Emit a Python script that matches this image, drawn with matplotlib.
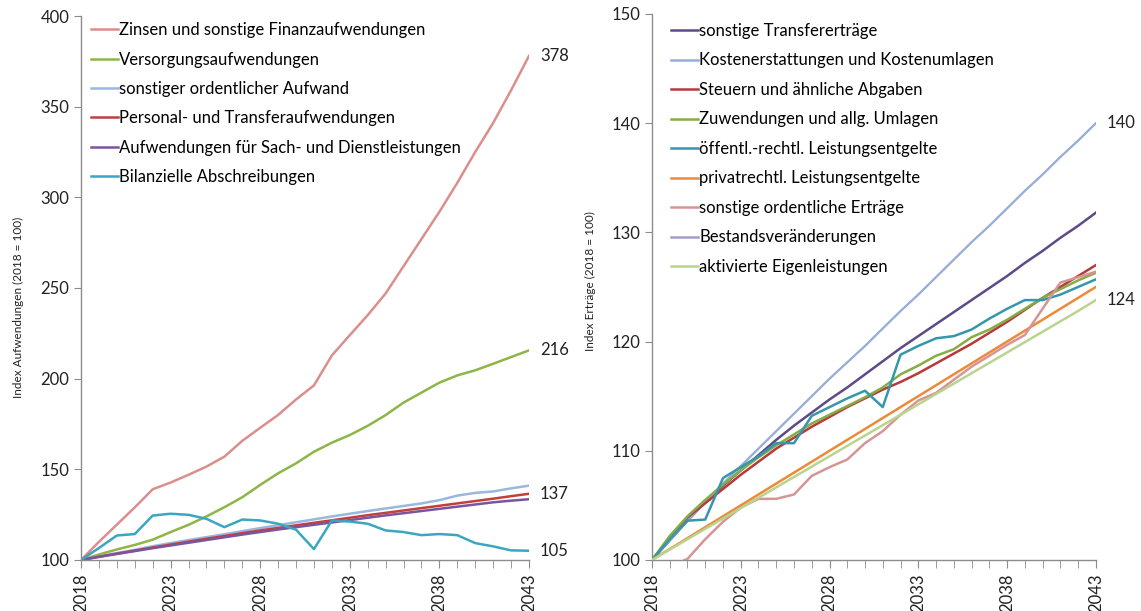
import numpy as np
import matplotlib
matplotlib.use("Agg")
import matplotlib.pyplot as plt

plt.rcParams['font.family'] = ['Lato', 'DejaVu Sans']

years = list(range(2018, 2044))

# Aufwendungen (2018 = 100)
aufw_names = ["Zinsen und sonstige Finanzaufwendungen",
              "Versorgungsaufwendungen",
              "sonstiger ordentlicher Aufwand",
              "Personal- und Transferaufwendungen",
              "Aufwendungen für Sach- und Dienstleistungen",
              "Bilanzielle Abschreibungen"]
zinsen = [100, 110, 119.5, 129, 139, 142.7, 147, 151.5, 157, 165.7, 172.9, 180, 188.5,
          196.3, 212.8, 224, 235, 247, 262, 277, 292, 308, 325, 341, 359, 378]
versorgung = [100, 103, 105.8, 108.3, 111.2, 115.4, 119.4, 124, 129.1, 134.6, 141.4, 147.8,
              153.3, 159.7, 164.7, 168.9, 174, 179.9, 186.8, 192.3, 197.8, 201.8, 204.6,
              208.2, 211.9, 215.6]
sonst_aufwand = [100, 102, 103.8, 105.6, 107.6, 109.3, 111, 112.6, 114.2, 115.9, 117.6, 119.2,
                 120.8, 122.4, 124, 125.5, 127, 128.4, 129.8, 131.2, 133, 135.5, 137,
                 137.8, 139.5, 141]
personal = [100, 101.8, 103.5, 105.2, 106.9, 108.5, 110.1, 111.7, 113.2, 114.8, 116.3, 117.7,
            119.1, 120.5, 121.9, 123.3, 124.7, 126, 127.3, 128.6, 129.9, 131.2, 132.5,
            133.8, 135.2, 136.5]
sach = [100, 101.7, 103.3, 104.9, 106.5, 108, 109.5, 111, 112.5, 114, 115.4, 116.8, 118.1,
        119.4, 120.7, 122, 123.3, 124.6, 125.8, 127, 128.2, 129.4, 130.6, 131.8, 132.7, 133.5]
abschreib = [100, 106.6, 113.5, 114.3, 124.5, 125.5, 124.9, 122.7, 118.1, 122.3, 121.8, 120,
             116.7, 106, 121.8, 121.2, 120, 116.3, 115.4, 113.7, 114.3, 113.7, 109.3, 107.5,
             105.3, 105.1]
aufw_series = [zinsen, versorgung, sonst_aufwand, personal, sach, abschreib]
aufw_colors = ["#DA8F8D", "#8DB547", "#9BB7DF", "#C0403D", "#7A559E", "#3AA6C0"]
aufw_end_labels = {"378": zinsen[-1], "216": versorgung[-1],
                   "137": personal[-1], "105": abschreib[-1]}

# Erträge (2018 = 100)
ertr_names = ["sonstige Transfererträge",
              "Kostenerstattungen und Kostenumlagen",
              "Steuern und ähnliche Abgaben",
              "Zuwendungen und allg. Umlagen",
              "öffentl.-rechtl. Leistungsentgelte",
              "privatrechtl. Leistungsentgelte",
              "sonstige ordentliche Erträge",
              "Bestandsveränderungen",
              "aktivierte Eigenleistungen"]
transfer = [100, 101.8, 103.6, 105.3, 106.8, 108.2, 109.6, 111, 112.3, 113.5, 114.7, 115.8,
            117, 118.2, 119.4, 120.5, 121.6, 122.7, 123.8, 124.9, 126, 127.2, 128.3,
            129.5, 130.6, 131.8]
kosten = [100, 101.8, 103.6, 105.3, 107, 108.6, 110.2, 111.8, 113.4, 115, 116.6, 118.1,
          119.6, 121.2, 122.8, 124.3, 125.9, 127.5, 129.1, 130.6, 132.2, 133.8, 135.3,
          136.9, 138.4, 140]
steuern = [100, 102, 103.9, 105.2, 106.5, 107.8, 109, 110.2, 111.2, 112.2, 113.1, 114,
           114.8, 115.6, 116.3, 117.1, 118, 118.9, 119.8, 120.8, 121.8, 122.9, 124,
           125, 126, 127]
zuwend = [100, 102.2, 104, 105.5, 106.9, 108.2, 109.4, 110.5, 111.5, 112.5, 113.3, 114.1,
          114.9, 115.8, 117, 117.8, 118.7, 119.3, 120.4, 121.1, 122, 123, 124, 124.8,
          125.6, 126.3]
oeff = [100, 101.9, 103.6, 103.7, 107.5, 108.5, 109.5, 110.7, 110.7, 113.2, 114, 114.8,
        115.5, 114, 118.8, 119.6, 120.3, 120.5, 121.1, 122.1, 123, 123.8, 123.8, 124.3,
        125, 125.7]
privat = [100, 101, 102, 103, 104, 105, 106, 107, 108, 109, 110, 111, 112, 113, 114, 115,
          116, 117, 118, 119, 120, 121, 122, 123, 124, 125]
sonst_ertr = [100, 99.4, 100.1, 101.9, 103.5, 104.8, 105.6, 105.6, 106, 107.7, 108.5, 109.2,
              110.7, 111.8, 113.3, 114.6, 115.3, 116.5, 117.7, 118.7, 119.7, 120.6, 123,
              125.4, 125.9, 126.4]
bestand = kosten
aktiv = [100, 100.95, 101.9, 102.85, 103.8, 104.75, 105.7, 106.65, 107.6, 108.55, 109.5,
         110.45, 111.4, 112.35, 113.3, 114.25, 115.2, 116.15, 117.1, 118.05, 119, 119.95,
         120.9, 121.85, 122.8, 123.8]
ertr_series = [transfer, kosten, steuern, zuwend, oeff, privat, sonst_ertr, bestand, aktiv]
ertr_colors = ["#5E4A86", "#97AFD6", "#B8393C", "#86AD45", "#3696AC", "#EC8A38",
               "#D69595", "#A899CC", "#B9D48E"]
ertr_widths = [1.8, 1.6, 1.8, 1.8, 1.8, 1.8, 1.8, 1.0, 1.8]
ertr_zorder = [3, 3, 3, 3, 3, 3, 3, 2, 3]
ertr_end_labels = {"140": kosten[-1], "124": aktiv[-1]}

fig = plt.figure(figsize=(11.41, 6.11), dpi=100)
ax1 = fig.add_axes([0.071, 0.0835, 0.3926, 0.8903])
ax2 = fig.add_axes([0.5714, 0.0835, 0.389, 0.8936])


def style_axis(ax, ylim, yticks, ylabel):
    ax.set_xlim(2018, 2043)
    ax.set_ylim(*ylim)
    ax.set_yticks(yticks)
    ax.set_xticks(range(2018, 2044, 5))
    ax.set_xticks(years, minor=True)
    ax.tick_params(axis='x', which='both', direction='out', length=6, color='#8c8c8c',
                   labelrotation=90, labelsize=12, labelcolor='#222222')
    ax.tick_params(axis='y', direction='out', length=5, color='#8c8c8c', labelsize=12,
                   labelcolor='#222222')
    for s in ['top', 'right']:
        ax.spines[s].set_visible(False)
    for s in ['left', 'bottom']:
        ax.spines[s].set_color('#8c8c8c')
        ax.spines[s].set_linewidth(1.0)
    ax.set_ylabel(ylabel, fontsize=8.5, color='#222222')


for name, vals, col in zip(aufw_names, aufw_series, aufw_colors):
    ax1.plot(years, vals, color=col, lw=1.8, label=name)
for txt, v in aufw_end_labels.items():
    ax1.annotate(txt, (2043, v), xytext=(8, 0), textcoords='offset points',
                 va='center', ha='left', fontsize=12, color='#222222', annotation_clip=False)
style_axis(ax1, (100, 400), range(100, 401, 50), "Index Aufwendungen (2018 = 100)")
ax1.yaxis.set_label_coords(-0.128, 0.465)
ax1.legend(loc='upper left', frameon=False, fontsize=12, handlelength=1.6,
           handletextpad=0.1, labelspacing=0.8, borderaxespad=0.2,
           bbox_to_anchor=(0.0, 1.007))

for name, vals, col, lw, z in zip(ertr_names, ertr_series, ertr_colors, ertr_widths, ertr_zorder):
    ax2.plot(years, vals, color=col, lw=lw, label=name, zorder=z)
for txt, v in ertr_end_labels.items():
    ax2.annotate(txt, (2043, v), xytext=(8, 0), textcoords='offset points',
                 va='center', ha='left', fontsize=12, color='#222222', annotation_clip=False)
style_axis(ax2, (100, 150), range(100, 151, 10), "Index Erträge (2018 = 100)")
ax2.yaxis.set_label_coords(-0.127, 0.511)
leg2 = ax2.legend(loc='upper left', frameon=False, fontsize=12, handlelength=1.6,
                  handletextpad=0.1, labelspacing=0.81, borderaxespad=0.2,
                  bbox_to_anchor=(0.02, 1.002))
for h in leg2.get_lines():
    h.set_linewidth(1.8)

fig.savefig("out.png", dpi=100)
